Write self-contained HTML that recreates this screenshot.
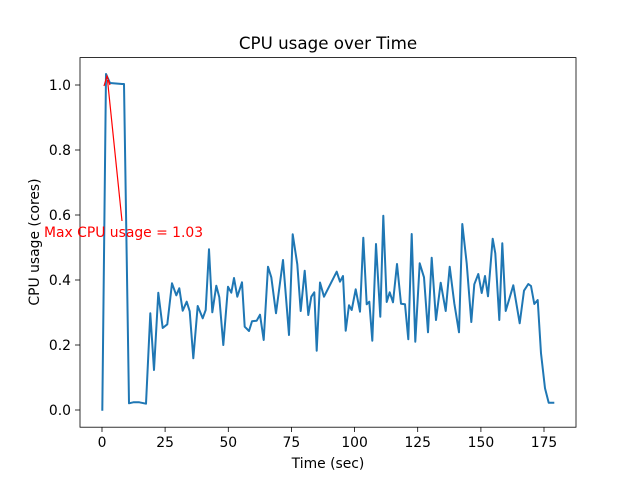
<!DOCTYPE html><html><head><style>body{margin:0;background:#fff}svg{display:block;font-family:"DejaVu Sans","Liberation Sans",sans-serif}</style></head><body>
<svg width="640" height="480" viewBox="0 0 640 480">
<rect width="640" height="480" fill="#fff"/>
<polyline fill="none" stroke="#1f77b4" stroke-width="2" stroke-linejoin="round" points="102.3,410.7 106,74 110,83 122,84 124,84 129,403.3 133.3,402.3 139.3,402.3 146,403.7 150.3,313.3 154,370 158.3,292.7 162.7,328 167.3,324.3 172,283.3 176.3,295.3 179.3,288.3 182.7,310.7 186.7,301.7 189.7,311.3 193.3,358.3 197.7,306 202.7,318.3 205.7,310 209,249.3 212.3,312.3 216.3,285.7 219.3,297.3 223.3,345 228,286.7 231.3,292.7 234,278 237.3,296.7 242,282.3 244.7,326.7 249,331 252,321.3 256.7,320.7 260,314.7 263.7,340 268,266.7 271.3,277.3 276,313.3 283,260 289,335 292.7,234.3 297.3,264.3 300.7,311 304.7,270.7 308.3,315 311.3,296.7 314.3,292.3 316.7,350.7 320,282.5 324,296.7 336.7,271.7 340,281.7 343,276 345.7,330.7 349,305.3 351.7,310 355.7,289.3 360,311.7 363.3,237.7 366.7,304.3 369.3,301.7 372.3,340.7 376,244 380.3,316.7 383.3,215.7 386.7,302 389.7,292.3 393,302.3 397,264 401,303.7 405,304.3 408.3,339.3 411.7,234 415.3,341.7 419.7,263.3 424,277.3 428,332.3 431.7,257.7 436,320 440.7,282.7 445.7,311 449.7,266.7 454.3,303.3 459,332.3 462.3,224 466.7,263.3 471.3,322 474.3,284.3 478.3,274 481.7,293 485,276 488,296.3 492.7,238.7 495.3,253.3 499.3,320 502.3,243.3 505.7,311 513.3,285.3 519.7,323.3 524,290.7 528.3,284 531,286 534.3,304 537.7,300 541,353.3 545,388.3 548.7,402.7 554.3,402.7"/>
<rect x="80" y="57.6" width="496" height="369.6" fill="none" stroke="#000" stroke-width="0.8"/>
<g stroke="#000" stroke-width="0.8">
<line x1="102" y1="427.2" x2="102" y2="432"/><line x1="165.1" y1="427.2" x2="165.1" y2="432"/><line x1="228.3" y1="427.2" x2="228.3" y2="432"/><line x1="291.4" y1="427.2" x2="291.4" y2="432"/><line x1="354.6" y1="427.2" x2="354.6" y2="432"/><line x1="417.7" y1="427.2" x2="417.7" y2="432"/><line x1="480.9" y1="427.2" x2="480.9" y2="432"/><line x1="544" y1="427.2" x2="544" y2="432"/>
<line x1="75" y1="410" x2="80" y2="410"/><line x1="75" y1="345" x2="80" y2="345"/><line x1="75" y1="280" x2="80" y2="280"/><line x1="75" y1="215" x2="80" y2="215"/><line x1="75" y1="150" x2="80" y2="150"/><line x1="75" y1="85" x2="80" y2="85"/>
</g>
<g font-size="13.9" text-anchor="middle" fill="#000">
<text x="102" y="447">0</text><text x="165.1" y="447">25</text><text x="228.3" y="447">50</text><text x="291.4" y="447">75</text><text x="354.6" y="447">100</text><text x="417.7" y="447">125</text><text x="480.9" y="447">150</text><text x="544" y="447">175</text>
</g>
<g font-size="13.9" text-anchor="end" fill="#000">
<text x="71" y="415">0.0</text><text x="71" y="350">0.2</text><text x="71" y="285">0.4</text><text x="71" y="220">0.6</text><text x="71" y="155">0.8</text><text x="71" y="90">1.0</text>
</g>
<text x="328" y="468" font-size="13.9" text-anchor="middle">Time (sec)</text>
<text transform="translate(39,242) rotate(-90)" font-size="13.9" text-anchor="middle">CPU usage (cores)</text>
<text x="328" y="49" font-size="16.7" text-anchor="middle">CPU usage over Time</text>
<line x1="122" y1="221" x2="107.5" y2="80" stroke="red" stroke-width="1.2"/>
<polyline points="104,86 107,76 110,85" fill="none" stroke="red" stroke-width="1.2"/>
<text x="44" y="237" font-size="13.9" fill="red">Max CPU usage = 1.03</text>
</svg></body></html>
